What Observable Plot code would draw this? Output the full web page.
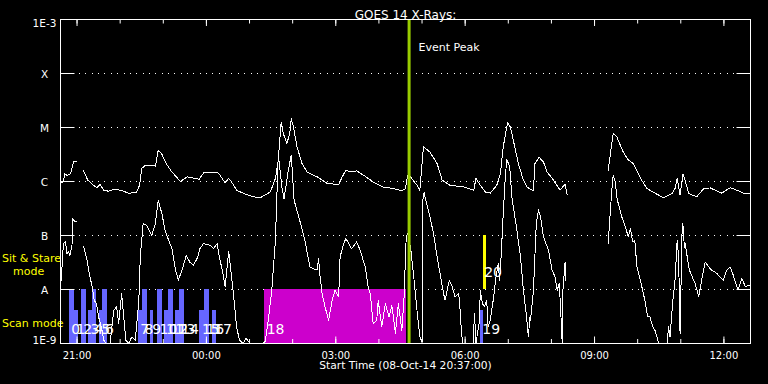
<!DOCTYPE html>
<html><head><meta charset="utf-8">
<script src="https://cdn.jsdelivr.net/npm/d3@7"></script>
<script src="https://cdn.jsdelivr.net/npm/@observablehq/plot@0.6"></script>
<style>html,body{margin:0;padding:0;background:#000;} svg{display:block}</style>
</head><body><div id="chart"></div>
<script>
// ---- data ----
const startTime = "2014-10-08T20:37:00Z";
const endTime = "2014-10-09T12:37:00Z";
const peakTime = "2014-10-09T04:42:00Z";
const titleText = "GOES 14 X-Rays:";
const xTitle = "Start Time (08-Oct-14 20:37:00)";
const peakLabel = "Event Peak";

const levelValues = [1e-8, 1e-7, 1e-6, 1e-5, 1e-4];
const levelLabels = ["A", "B", "C", "M", "X"];
const endValues = [1e-3, 1e-9];
const endLabels = ["1E-3", "1E-9"];

// long channel (1-8 A): minutes after start, flux W/m^2 (NaN = data gap)
const longMin = [1,4,6,9,14,18,23,27,32,38,46,51,55,60,67,74,85,95,106,110,113,118,127,132,136,141,147,155,167,176,183,193,199,208,218,222,229,234,238,245,255,269,278,292,299,303,307,310,315,319,321,324,329,336,343,357,371,387,392,397,403,412,422,435,449,463,475,480,483,487,496,500,505,514,524,531,542,561,575,578,584,591,598,607,612,616,622,626,630,637,644,649,658,660,666,672,677,686,695,702,705,730,762,769,774,783,790,797,807,816,827,839,851,855,858,862,866,869,874,885,895,904,920,932,941,950,960];
const longFlux = [9.4e-7,9.8e-7,1.4e-6,1.3e-6,1.4e-6,2.3e-6,2.3e-6,NaN,1.57e-6,1.06e-6,8.5e-7,7.7e-7,8.8e-7,6.9e-7,6.6e-7,7.1e-7,6.9e-7,6.0e-7,6.4e-7,8.5e-7,1.74e-6,2.0e-6,2.0e-6,1.92e-6,3.8e-6,3.2e-6,2.15e-6,1.5e-6,1.0e-6,1.22e-6,1.17e-6,1.1e-6,1.44e-6,1.47e-6,1.5e-6,1.3e-6,9.4e-7,1.14e-6,9.8e-7,6.9e-7,6.0e-7,5.2e-7,5.0e-7,6.4e-7,1.14e-6,2.5e-6,1.27e-5,7.7e-6,5.1e-6,7.7e-6,1.47e-5,1.03e-5,4.4e-6,2.15e-6,1.5e-6,1.22e-6,9.2e-7,8.8e-7,1.22e-6,1.62e-6,1.5e-6,1.57e-6,1.3e-6,9.8e-7,7.9e-7,7.4e-7,6.7e-7,7.4e-7,1.3e-6,1.22e-6,8.5e-7,6.9e-7,4.4e-6,3.5e-6,2.15e-6,1.06e-6,8.5e-7,7.9e-7,6.9e-7,1.14e-6,8.5e-7,6.4e-7,6.1e-7,8.5e-7,1.4e-6,4.4e-6,1.22e-5,1.02e-5,5.8e-6,2.15e-6,1.06e-6,7.9e-7,6.7e-7,2.15e-6,2.8e-6,2.3e-6,1.5e-6,1.06e-6,6.9e-7,8.9e-7,5.6e-7,NaN,1.62e-6,7.9e-6,6.7e-6,3.5e-6,2.5e-6,2.15e-6,1.14e-6,7.4e-7,6.1e-7,5.0e-7,6.0e-7,7.4e-7,1.14e-6,5.6e-7,1.36e-6,1.06e-6,6.0e-7,5.2e-7,7.4e-7,7.6e-7,6.1e-7,7.7e-7,6.9e-7,6.1e-7,6.0e-7];

// short channel (0.5-4 A)
const shortMin = [1,4,7,9,11,13,16,17,20,22,27,32,37,40,44,47,50,53,58,60,64,69,74,78,81,85,88,91,95,99,104,109,111,115,120,127,132,136,141,146,155,160,164,169,175,180,185,191,194,199,208,213,218,221,226,229,234,237,241,245,249,254,258,264,281,285,289,294,299,303,308,311,317,321,323,325,334,340,347,357,359,361,364,368,373,378,382,387,389,394,397,401,405,412,417,424,428,431,435,440,442,447,452,457,461,466,470,475,478,481,483,487,491,496,500,503,504,506,507,514,519,524,528,533,535,538,541,545,549,554,556,558,560,574,576,578,583,584,587,590,593,595,598,602,606,609,611,613,616,619,621,625,628,630,635,640,644,648,651,653,654,658,662,665,668,672,679,684,688,691,694,697,698,699,702,703,730,762,767,769,772,774,776,781,786,790,793,796,799,802,806,810,813,817,820,824,827,830,832,844,846,848,852,855,858,860,862,865,866,868,869,872,875,879,883,888,892,897,902,906,913,918,922,927,932,936,941,943,948,953,957,960];
const shortFlux = [1.49e-8,7.1e-8,7.6e-8,4.6e-8,5.0e-8,4.3e-8,6.6e-8,2.07e-7,1.79e-7,1.8e-7,NaN,
6.3e-8,3.5e-8,2.0e-8,1.12e-8,6.3e-9,5.5e-9,3.1e-9,1.76e-9,1.15e-9,1.0e-9,
1.0e-9,4.1e-9,4.8e-9,2.35e-9,8.4e-9,3.1e-9,1.15e-9,1.0e-9,1.32e-9,1.15e-9,
6.3e-9,4.0e-8,1.67e-7,1.55e-7,1.0e-7,1.67e-7,4.5e-7,2.55e-7,1.17e-7,5.7e-8,
2.28e-8,1.49e-8,2.28e-8,4.3e-8,3.2e-8,2.8e-8,4.0e-8,5.7e-8,7.1e-8,6.6e-8,
5.7e-8,7.1e-8,4.0e-8,2.0e-8,1.12e-8,5.0e-8,2.28e-8,7.3e-9,2.03e-9,1.15e-9,
1.0e-9,1.25e-9,1.0e-9,1.0e-9,1.1e-9,2.7e-9,9.7e-9,8.2e-8,3.2e-6,7.9e-7,
4.8e-7,1.62e-6,3.07e-6,1.22e-6,4.5e-7,1.67e-7,8.2e-8,2.6e-8,2.28e-8,3.75e-8,
1.84e-8,8.4e-9,4.8e-9,2.7e-9,6.3e-9,9.7e-9,7.3e-9,4.0e-8,7.1e-8,8.8e-8,
7.1e-8,5.7e-8,7.6e-8,5.3e-8,2.6e-8,1.12e-8,8.4e-9,2.35e-9,2.7e-9,6.3e-9,
2.03e-9,5.5e-9,3.1e-9,5.1e-9,1.53e-9,5.5e-9,1.76e-9,7.3e-9,9.4e-8,1.09e-7,
6.1e-8,2.0e-8,4.1e-9,1.32e-9,1.07e-9,4.5e-7,6.3e-7,5.2e-7,2.2e-7,1.09e-7,
4.0e-8,2.0e-8,8.4e-9,6.3e-9,9.7e-9,1.49e-8,1.12e-8,7.3e-9,8.4e-9,4.1e-9,
1.53e-9,1.0e-9,1.0e-9,3.6e-9,1.0e-9,2.7e-9,9.7e-9,5.5e-9,4.8e-9,6.3e-9,
2.03e-9,2.7e-9,6.3e-9,1.71e-8,3.0e-8,1.49e-8,4.0e-8,2.55e-7,1.31e-6,2.55e-6,
1.86e-6,5.2e-7,3.4e-7,1.25e-7,4.0e-8,9.7e-9,3.6e-9,1.32e-9,3.1e-9,2.7e-9,
9.7e-9,1.67e-7,3.0e-7,2.2e-7,9.4e-8,5.3e-8,2.28e-8,1.71e-8,9.7e-9,1.29e-8,
2.03e-9,1.0e-9,9.7e-9,3.24e-8,1.49e-8,NaN,
7.1e-8,6.9e-7,1.31e-6,9.8e-7,5.2e-7,3.9e-7,2.2e-7,1.44e-7,9.4e-8,1.35e-7,
7.6e-8,8.2e-8,2.6e-8,1.6e-8,9.7e-9,6.3e-9,3.1e-9,3.1e-9,2.03e-9,1.76e-9,
1.32e-9,1.0e-9,1.0e-9,2.03e-9,1.32e-9,6.3e-9,1.49e-8,8.2e-8,4.0e-8,1.53e-9,
1.67e-7,1.55e-7,6.1e-8,7.1e-8,4.0e-8,2.28e-8,1.71e-8,1.29e-8,7.3e-9,1.49e-8,
3.24e-8,2.6e-8,2.28e-8,2.0e-8,1.67e-8,1.49e-8,2.28e-8,2.6e-8,1.84e-8,1.12e-8,
1.0e-8,1.6e-8,1.12e-8,1.2e-8,1.15e-8];

// observing scans (minutes after start)
const scanId    = [0,1,2,3,4,5,6,7,8,9,10,11,12,13,14,15,16,17,18,19,20];
const scanStart = [12,19,29,39,44,54,59,108,114,125,135,144,150,160,165,194,200,211,284,584,588];
const scanEnd   = [19,25,36,44,50,59,66,114,121,130,142,150,157,165,172,200,207,217,481,589,592];
const scanLow   = [1e-9,1e-9,1e-9,1e-9,1e-9,1e-9,1e-9,1e-9,1e-9,1e-9,1e-9,1e-9,1e-9,1e-9,1e-9,1e-9,1e-9,1e-9,1e-9,1e-9,1e-8];
const scanHigh  = [1e-8,4.1e-9,1e-8,4.1e-9,1e-8,4.1e-9,1e-8,4.1e-9,1e-8,4.1e-9,1e-8,4.1e-9,1e-8,4.1e-9,1e-8,4.1e-9,1e-8,4.1e-9,1e-8,4.1e-9,1e-7];
const scanKind  = ["scan","scan","scan","scan","scan","scan","scan","scan","scan","scan","scan","scan","scan","scan","scan","scan","scan","scan","long","scan","stare"];

const modeText = ["Sit & Stare", "mode", "Scan mode"];
const modeY = [3.7e-8, 2.2e-8, 2.3e-9];

// ---- build ----
const t0 = new Date(startTime), t1 = new Date(endTime);
const at = m => new Date(t0.getTime() + m * 60000);
const longData = longMin.map((m, i) => ({t: at(m), v: longFlux[i]}));
const shortData = shortMin.map((m, i) => ({t: at(m), v: shortFlux[i]}));
const scans = scanId.map((id, i) => ({id: String(id), s: at(scanStart[i]), e: at(scanEnd[i]), lo: scanLow[i], hi: scanHigh[i], kind: scanKind[i]}));
const kindColor = {scan: "#6666ff", long: "#cc00cc", stare: "#ffff00"};
const W = "white";
const noText = () => "";

const chart = Plot.plot({
  width: 768, height: 384,
  marginLeft: 60, marginRight: 18, marginTop: 19, marginBottom: 41,
  style: {background: "black", color: "white", fontFamily: "'DejaVu Sans', sans-serif", fontSize: "10px"},
  x: {type: "utc", domain: [t0, t1]},
  y: {type: "log", domain: [1e-9, 1e-3]},
  marks: [
    Plot.ruleY(levelValues, {stroke: W, strokeDasharray: "1,5.35", shapeRendering: "crispEdges"}),
    Plot.rect(scans, {x1: "s", x2: "e", y1: "lo", y2: "hi", fill: d => kindColor[d.kind], shapeRendering: "crispEdges"}),
    Plot.line(shortData, {x: "t", y: "v", stroke: W, strokeWidth: 1, shapeRendering: "crispEdges"}),
    Plot.line(longData, {x: "t", y: "v", stroke: W, strokeWidth: 1, shapeRendering: "crispEdges"}),
    Plot.text(scans.filter(d => d.kind !== "stare"), {x: "s", text: "id", frameAnchor: "bottom", dx: 2, dy: -9.5, textAnchor: "start", fill: W, fontSize: 14}),
    Plot.text(scans.filter(d => d.kind === "stare"), {x: "s", y: "lo", text: "id", dx: 1, dy: -17, textAnchor: "start", fill: W, fontSize: 14}),
    Plot.ruleX([new Date(peakTime)], {stroke: "#99cc00", strokeWidth: 3}),
    Plot.text([peakLabel], {x: () => new Date(peakTime), text: d => d, frameAnchor: "top", dx: 9.5, dy: 24, textAnchor: "start", fill: W, fontSize: 11}),
    // axes
    Plot.axisX({anchor: "bottom", ticks: d3.utcHour.every(3), tickFormat: d3.utcFormat("%H:%M"), tickSize: 0, tickPadding: 8, fill: W, fontSize: 10, label: null}),
    Plot.axisX({anchor: "bottom", ticks: d3.utcHour.every(1), tickFormat: noText, tickSize: -4, stroke: W, label: null}),
    Plot.axisX({anchor: "bottom", ticks: d3.utcHour.every(3), tickFormat: noText, tickSize: -6.5, stroke: W, label: null}),
    Plot.axisX({anchor: "top", ticks: d3.utcHour.every(1), tickFormat: noText, tickSize: -3.5, stroke: W, label: null}),
    Plot.axisX({anchor: "top", ticks: d3.utcHour.every(3), tickFormat: noText, tickSize: -6, stroke: W, label: null}),
    Plot.axisY({anchor: "left", ticks: [1e-9,1e-8,1e-7,1e-6,1e-5,1e-4,1e-3], tickFormat: noText, tickSize: -14.5, stroke: W, label: null}),
    Plot.axisY({anchor: "right", ticks: [1e-9,1e-8,1e-7,1e-6,1e-5,1e-4,1e-3], tickFormat: noText, tickSize: -14.5, stroke: W, label: null}),
    Plot.text(levelValues, {y: d => d, text: (d, i) => levelLabels[i], frameAnchor: "left", dx: -16, dy: 1, textAnchor: "middle", fill: W, fontSize: 10.5}),
    Plot.text([endValues[0]], {y: d => d, text: () => endLabels[0], frameAnchor: "left", dx: -16, dy: 4.5, textAnchor: "middle", fill: W, fontSize: 10.5}),
    Plot.text([endValues[1]], {y: d => d, text: () => endLabels[1], frameAnchor: "left", dx: -16, dy: -3, textAnchor: "middle", fill: W, fontSize: 10.5}),
    Plot.text([modeText[0], modeText[2]], {y: (d, i) => modeY[i * 2], text: d => d, frameAnchor: "left", dx: -58.5, textAnchor: "start", fill: "#ffff00", fontSize: 11}),
    Plot.text([modeText[1]], {y: () => modeY[1], text: d => d, frameAnchor: "left", dx: -47.5, textAnchor: "start", fill: "#ffff00", fontSize: 11}),
    Plot.text([titleText], {text: d => d, frameAnchor: "top", dy: -9.5, fill: W, fontSize: 12}),
    Plot.text([xTitle], {text: d => d, frameAnchor: "bottom", dy: 25, fill: W, fontSize: 10.7}),
    Plot.frame({stroke: W, strokeWidth: 1})
  ]
});
document.getElementById("chart").append(chart);
</script>
</body></html>
